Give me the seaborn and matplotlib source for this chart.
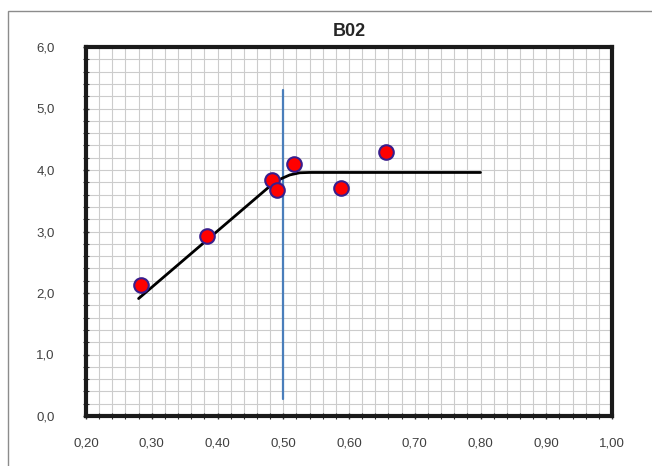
import matplotlib
matplotlib.use("Agg")
import matplotlib.pyplot as plt
import seaborn as sns
import numpy as np
import pandas as pd
from matplotlib.ticker import MultipleLocator, FuncFormatter
from matplotlib.patches import Rectangle

title = "B02"
pts_x = [0.283, 0.384, 0.483, 0.490, 0.516, 0.588, 0.656]
pts_y = [2.13, 2.93, 3.84, 3.68, 4.09, 3.71, 4.30]
curve_x = [0.28, 0.48, 0.495, 0.51, 0.525, 0.54, 0.80]
curve_y = [1.91, 3.74, 3.85, 3.92, 3.955, 3.96, 3.96]
vline_x = [0.50, 0.50]
vline_y = [0.28, 5.30]

sns.set_theme(style="white")
plt.rcParams['font.family'] = ['Liberation Sans', 'DejaVu Sans']

fig = plt.figure(figsize=(6.52, 4.66), dpi=100)
fig.patches.append(Rectangle((8/652, -0.1), 1.2, (455/466) + 0.1,
                             transform=fig.transFigure, fill=False,
                             edgecolor='#8c8c8c', linewidth=1.0))
ax = fig.add_axes([86/652, 1-416/466, (612-86)/652, (416-47)/466])

ax.set_xlim(0.2, 1.0)
ax.set_ylim(0, 6)
ax.xaxis.set_major_locator(MultipleLocator(0.1))
ax.xaxis.set_minor_locator(MultipleLocator(0.02))
ax.yaxis.set_major_locator(MultipleLocator(1.0))
ax.yaxis.set_minor_locator(MultipleLocator(0.2))
ax.grid(True, which='both', color='#cccccc', linewidth=0.8)
ax.set_axisbelow(True)

sns.lineplot(x=vline_x, y=vline_y, ax=ax, color='#4a7ebb', linewidth=1.6,
             sort=False, estimator=None)
sns.lineplot(x=curve_x, y=curve_y, ax=ax, color='black', linewidth=2.0,
             sort=False, estimator=None)
sns.scatterplot(x=pts_x, y=pts_y, ax=ax, s=110, color='#ff0000',
                edgecolor='#3a1e8c', linewidth=1.5, zorder=5)

for sp in ax.spines.values():
    sp.set_visible(True)
    sp.set_linewidth(3.0)
    sp.set_color('#1a1a1a')

fmt1 = FuncFormatter(lambda v, p: f"{v:.2f}".replace('.', ','))
fmt2 = FuncFormatter(lambda v, p: f"{v:.1f}".replace('.', ','))
ax.xaxis.set_major_formatter(fmt1)
ax.yaxis.set_major_formatter(fmt2)
ax.tick_params(axis='both', which='major', labelsize=9.5, labelcolor='#404040',
               length=5, width=1, direction='inout', color='#333333',
               left=True, bottom=True)
ax.tick_params(axis='both', which='minor', length=4, width=0.8,
               direction='inout', color='#333333', left=True, bottom=True)
ax.tick_params(axis='x', which='major', pad=13)
ax.tick_params(axis='y', which='major', pad=20)

ax.set_title(title, fontsize=13, fontweight='bold', pad=8)
ax.set_xlabel("")
ax.set_ylabel("")

fig.savefig("out.png", dpi=100)
